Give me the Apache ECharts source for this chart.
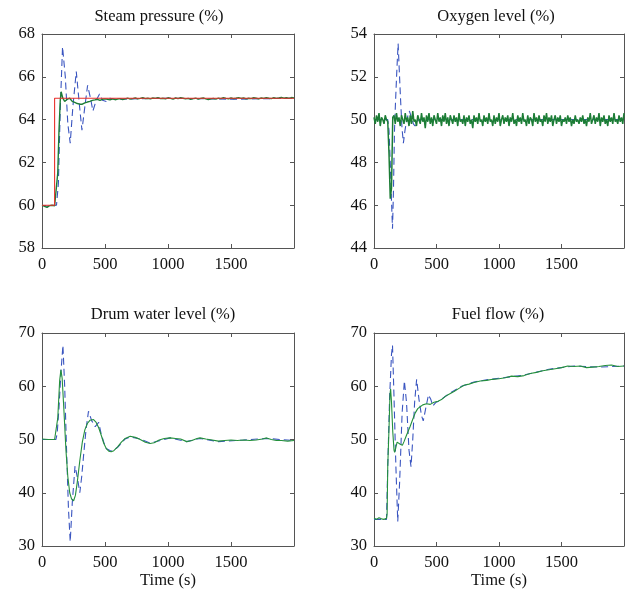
<!DOCTYPE html>
<html>
<head>
<meta charset="utf-8">
<script src="https://cdn.jsdelivr.net/npm/echarts@6/dist/echarts.min.js"></script>
<style>
  html, body { margin: 0; padding: 0; background: #fff; }
  #main { width: 627px; height: 590px; }
</style>
</head>
<body>
<div id="main"></div>
<script>
// panel titles
const titles = ['Steam pressure (%)', 'Oxygen level (%)', 'Drum water level (%)', 'Fuel flow (%)'];
const xTicks = [0, 500, 1000, 1500];

// steam pressure: [time, value]
const spRed = [[0, 60], [100, 60], [100, 65], [2000, 65]];
const spBlue = [[0, 60.0], [40, 59.95], [80, 60.0], [115, 60.0], [130, 61.0], [145, 64.5], [163, 67.4], [185, 66.0],
  [205, 63.8], [224, 62.9], [245, 64.6], [272, 66.25], [295, 64.8], [317, 63.5], [340, 64.6], [362, 65.6],
  [385, 65.0], [404, 64.4], [430, 64.9], [457, 65.2], [480, 64.9], [510, 64.85], [540, 65.0], [580, 64.95],
  [700, 64.97], [1000, 65.0], [1500, 64.95], [2000, 65.0]];
const spGreenHead = [[0, 60.0], [20, 59.95], [40, 59.9], [60, 59.98], [80, 60.0], [100, 59.97], [115, 60.0],
  [125, 61.5], [135, 63.5], [145, 64.9], [152, 65.3], [165, 65.0], [180, 64.85], [200, 64.95], [220, 65.0],
  [240, 64.85], [260, 64.8], [280, 64.75], [300, 64.72], [320, 64.72], [340, 64.78], [360, 64.82], [380, 64.85],
  [400, 64.9], [420, 64.92], [440, 64.95], [460, 64.9], [480, 64.95], [500, 64.97]];
// every 20 s from 520 s
const spGreenTail = [
  64.95, 64.92, 64.97, 64.93, 64.96, 64.98, 64.94, 64.97, 65.0, 64.96,
  64.98, 65.01, 64.97, 64.99, 65.02, 64.98, 65.0, 64.97, 65.01, 64.99,
  65.03, 64.98, 65.0, 64.97, 65.02, 64.99, 64.96, 65.01, 64.98, 65.03,
  65.0, 64.97, 64.99, 64.95, 64.98, 65.0, 64.96, 64.99, 65.01, 64.97,
  64.94, 64.97, 64.99, 64.96, 65.0, 64.98, 65.02, 64.99, 64.97, 65.01,
  64.98, 65.0, 65.03, 64.99, 65.01, 64.97, 65.0, 64.98, 65.02, 65.0,
  64.97, 65.01, 64.99, 65.03, 65.0, 64.98, 65.02, 64.99, 65.01, 65.04,
  65.0, 65.02, 64.99, 65.03, 65.01];

// oxygen level
const o2Blue = [[0, 50.0], [110, 50.0], [120, 49.5], [130, 48.0], [140, 46.2], [148, 44.9], [155, 46.5], [164, 49.5],
  [172, 50.8], [182, 52.2], [193, 53.55], [200, 52.6], [212, 51.0], [224, 49.6], [235, 48.9], [248, 49.5],
  [262, 50.0], [283, 50.4], [300, 50.1], [315, 49.8], [328, 49.7], [345, 49.9], [360, 50.0], [2000, 50.0]];
// every 10 s from 0 s
const o2Green = [
  50.1, 49.8, 50.2, 49.9, 50.3, 49.7, 50.1, 50.0, 49.8, 50.2, 50.0,
  49.9, 48.4, 46.3, 46.8, 50.1,
  50.2, 49.8, 50.3, 49.9, 50.1, 49.7, 50.2, 50.0, 49.8, 50.3,
  49.9, 50.1, 49.7, 50.2, 49.8, 50.4, 49.9, 50.0, 49.7, 50.2,
  50.0, 49.8, 50.3, 49.9, 50.1, 49.6, 50.2, 49.9, 50.3, 49.8,
  50.1, 49.7, 50.2, 50.0, 49.8, 50.3, 49.9, 50.1, 49.7, 50.2,
  49.9, 50.3, 49.8, 50.1, 49.7, 50.2, 50.0, 49.8, 50.2, 49.9,
  50.1, 49.7, 50.3, 49.9, 50.0, 49.8, 50.2, 49.7, 50.1, 49.9,
  50.2, 49.8, 50.0, 49.6, 50.2, 49.9, 50.1, 49.8, 50.3, 49.9,
  50.0, 49.7, 50.2, 49.9, 50.1, 49.8, 50.3, 49.9, 50.0, 49.7,
  50.2, 49.8, 50.1, 49.9, 50.3, 49.7, 50.0, 50.2, 49.8, 50.1,
  49.9, 50.2, 49.7, 50.1, 49.9, 50.3, 49.8, 50.0, 49.7, 50.2,
  49.9, 50.1, 49.8, 50.3, 49.9, 50.0, 49.7, 50.2, 49.8, 50.1,
  50.0, 49.7, 50.3, 49.9, 50.1, 49.8, 50.2, 49.9, 50.0, 49.7,
  50.2, 49.9, 50.3, 49.8, 50.1, 49.9, 50.2, 49.7, 50.0, 50.2,
  49.8, 50.1, 49.9, 50.2, 49.7, 50.0, 49.9, 50.1, 49.8, 50.2,
  49.9, 50.1, 49.7, 50.0, 49.8, 50.2, 49.9, 50.0, 49.8, 50.1,
  49.9, 50.2, 49.8, 50.0, 49.7, 50.1, 49.9, 50.3, 49.8, 50.0,
  50.2, 49.8, 50.1, 49.9, 50.3, 49.7, 50.1, 49.9, 50.2, 49.8,
  50.0, 49.7, 50.2, 49.9, 50.1, 49.8, 50.3, 49.9, 50.0, 49.8,
  50.2, 49.9, 50.1, 49.8, 50.3];

// drum water level
const drBlue = [[0, 50.0], [110, 50.0], [120, 51.0], [135, 56.0], [150, 62.5], [166, 67.7], [180, 60.0], [195, 48.0],
  [210, 37.0], [224, 30.8], [240, 38.0], [262, 45.0], [280, 43.0], [300, 40.0], [315, 43.0], [330, 47.0],
  [350, 52.0], [369, 55.3], [395, 53.5], [422, 52.4], [450, 53.2], [470, 51.0], [490, 49.5], [510, 48.3],
  [549, 47.8], [600, 48.5], [660, 50.1], [700, 50.5], [780, 50.1], [858, 49.3], [1017, 50.3], [1149, 49.6],
  [1254, 50.2], [1400, 49.6], [1600, 49.9], [1783, 50.2], [2000, 49.8]];
const drGreen = [[0, 50.1], [50, 50.0], [100, 50.0], [113, 50.1], [125, 54.0], [140, 61.0], [150, 63.1], [160, 61.5],
  [175, 55.0], [190, 48.0], [205, 43.0], [220, 40.0], [235, 38.8], [251, 38.5], [265, 39.5], [280, 42.0],
  [300, 46.0], [320, 49.5], [340, 51.8], [360, 53.0], [380, 53.6], [409, 53.75], [430, 53.2], [450, 52.2],
  [470, 50.8], [490, 49.3], [510, 48.3], [530, 47.8], [549, 47.7], [570, 47.9], [600, 48.6], [630, 49.5],
  [660, 50.2], [700, 50.6], [740, 50.4], [780, 50.0], [820, 49.5], [858, 49.25], [890, 49.4], [930, 49.9],
  [970, 50.2], [1017, 50.3], [1060, 50.2], [1100, 50.1], [1149, 49.6], [1190, 49.8], [1230, 50.2], [1254, 50.3],
  [1300, 50.1], [1350, 49.9], [1400, 49.7], [1450, 49.8], [1500, 49.9], [1550, 49.8], [1600, 49.9], [1650, 49.8],
  [1700, 49.9], [1750, 50.1], [1783, 50.3], [1820, 50.0], [1860, 49.8], [1900, 49.8], [1950, 49.7], [2000, 49.8]];

// fuel flow
const ffBlue = [[0, 35.0], [100, 35.0], [110, 45.0], [125, 58.0], [140, 66.0], [148, 67.7], [160, 58.0], [175, 45.0],
  [190, 34.6], [205, 42.0], [225, 55.0], [243, 61.0], [260, 57.0], [280, 48.0], [296, 44.9], [310, 50.0],
  [325, 57.0], [341, 61.3], [360, 57.5], [380, 54.5], [394, 53.5], [415, 56.0], [436, 58.4], [455, 57.5],
  [470, 56.3], [497, 57.0], [520, 57.2], [600, 58.6], [700, 60.0], [800, 60.8], [900, 61.2], [1000, 61.5],
  [1200, 62.1], [1400, 63.2], [1600, 63.8], [1800, 63.6], [2000, 63.8]];
const ffGreen = [[0, 35.2], [20, 35.0], [40, 35.3], [60, 35.1], [80, 35.0], [100, 35.2], [105, 36.0], [110, 45.0],
  [120, 52.0], [128, 58.5], [133, 59.5], [140, 57.0], [150, 51.5], [160, 48.0], [165, 47.6], [175, 48.5],
  [185, 49.5], [195, 49.6], [210, 49.1], [227, 48.9], [240, 49.6], [260, 50.8], [288, 52.4], [310, 53.8],
  [330, 55.0], [350, 55.8], [367, 56.1], [390, 56.5], [420, 56.7], [450, 56.6], [480, 57.0], [512, 57.2],
  [540, 57.5], [570, 58.1], [600, 58.5], [640, 59.0], [680, 59.6], [720, 60.2], [760, 60.4], [800, 60.7],
  [850, 61.0], [900, 61.1], [950, 61.3], [1000, 61.4], [1050, 61.6], [1100, 61.9], [1150, 61.8], [1200, 62.0],
  [1250, 62.4], [1300, 62.6], [1350, 62.9], [1400, 63.1], [1450, 63.3], [1500, 63.5], [1550, 63.8], [1600, 63.7],
  [1650, 63.8], [1700, 63.5], [1750, 63.6], [1800, 63.7], [1850, 63.9], [1900, 64.0], [1950, 63.7], [2000, 63.8]];

const spGreen = spGreenHead.concat(spGreenTail.map((v, i) => [520 + i * 20, v]));
const o2GreenPts = o2Green.map((v, i) => [i * 10, v]);

const FONT = 'Liberation Serif';
const RED = '#e8302c';
const BLUE = '#3a55c0';
const GREEN = '#24903c';
const DARK_GREEN = '#1c7d36';
const AXIS = '#555';

const grids = [
  {left: 42, top: 34, width: 252, height: 214},
  {left: 374, top: 34, width: 252, height: 214},
  {left: 42, top: 333, width: 252, height: 213},
  {left: 374, top: 333, width: 252, height: 213},
];
const yRanges = [[58, 68, 2], [44, 54, 2], [30, 70, 10], [30, 70, 10]];
const titleX = [159, 496, 163, 498];
const titleY = [17, 17, 315, 315];

const xAxes = [];
const yAxes = [];
grids.forEach((g, i) => {
  ['bottom', 'top'].forEach(pos => {
    xAxes.push({
      type: 'value', gridIndex: i, position: pos, min: 0, max: 2000, interval: 500,
      axisLine: {show: true, onZero: false, lineStyle: {color: AXIS, width: 1}},
      axisTick: {show: true, inside: true, length: 4, lineStyle: {color: AXIS}},
      splitLine: {show: false},
      axisLabel: {
        show: pos === 'bottom', margin: 8, color: '#111', fontFamily: FONT, fontSize: 16.5,
        formatter: v => xTicks.indexOf(v) >= 0 ? String(v) : ''
      },
      name: (pos === 'bottom' && i >= 2) ? 'Time (s)' : '',
      nameLocation: 'middle', nameGap: 23,
      nameTextStyle: {color: '#111', fontFamily: FONT, fontSize: 16.5},
    });
  });
  ['left', 'right'].forEach(pos => {
    yAxes.push({
      type: 'value', gridIndex: i, position: pos,
      min: yRanges[i][0], max: yRanges[i][1], interval: yRanges[i][2],
      axisLine: {show: true, onZero: false, lineStyle: {color: AXIS, width: 1}},
      axisTick: {show: true, inside: true, length: 4, lineStyle: {color: AXIS}},
      splitLine: {show: false},
      axisLabel: {show: pos === 'left', margin: 7, color: '#111', fontFamily: FONT, fontSize: 16.5},
    });
  });
});

function line(data, i, color, dashed, z, width) {
  return {
    type: 'line', data: data, xAxisIndex: i * 2, yAxisIndex: i * 2,
    showSymbol: false, symbol: 'none', animation: false, z: z,
    lineStyle: {color: color, width: width || 1.1, type: dashed ? [7, 4] : 'solid'},
  };
}

const series = [
  line(spBlue, 0, BLUE, true, 2),
  line(spGreen, 0, DARK_GREEN, false, 3, 1.4),
  line(spRed, 0, RED, false, 4),
  line(o2Blue, 1, BLUE, true, 2),
  line(o2GreenPts, 1, DARK_GREEN, false, 3, 1.5),
  line(drBlue, 2, BLUE, true, 2),
  line(drGreen, 2, GREEN, false, 3),
  line(ffBlue, 3, BLUE, true, 2),
  line(ffGreen, 3, GREEN, false, 3),
];

const chart = echarts.init(document.getElementById('main'), null, {renderer: 'canvas'});
chart.setOption({
  backgroundColor: '#fff',
  animation: false,
  grid: grids,
  xAxis: xAxes,
  yAxis: yAxes,
  graphic: titles.map((t, i) => ({
    type: 'text', x: titleX[i], y: titleY[i],
    style: {text: t, align: 'center', verticalAlign: 'middle', fill: '#111', font: '16.5px "Liberation Serif"'}
  })),
  series: series,
});
</script>
</body>
</html>
